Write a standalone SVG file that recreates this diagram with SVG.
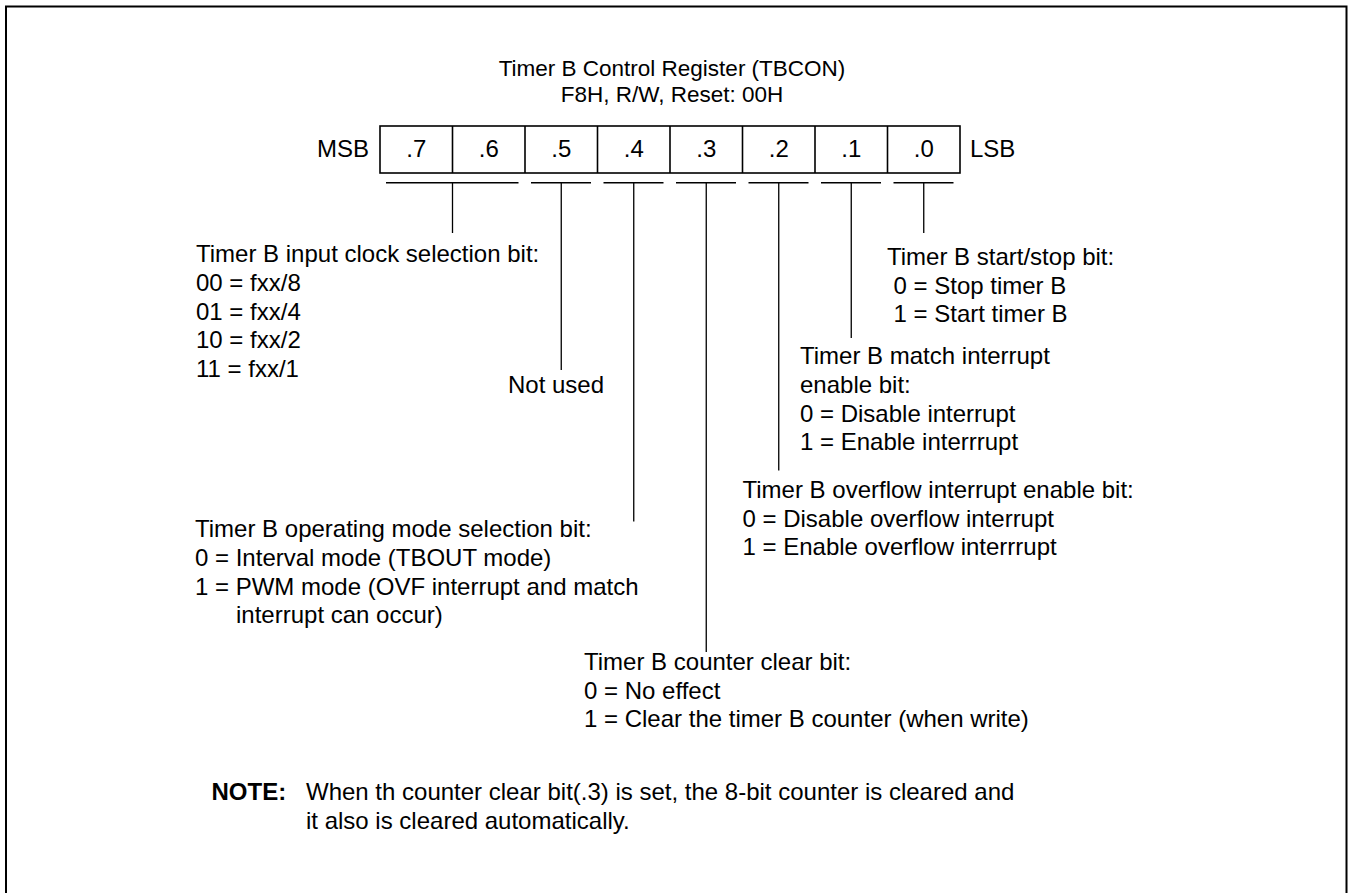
<svg xmlns="http://www.w3.org/2000/svg" width="1352" height="893" viewBox="0 0 1352 893">
<style>
text{font-family:"Liberation Sans",Arial,sans-serif;font-size:24px;fill:#000}
.c{text-anchor:middle}
.t{font-size:22.5px}
.b{font-weight:bold}
.reg{fill:none;stroke:#000;stroke-width:1.6}
.ul{stroke:#000;stroke-width:1.6}
.ld{stroke:#000;stroke-width:1.3;fill:none}
</style>
<rect x="6" y="6.5" width="1340.5" height="950" fill="#fff" stroke="#000" stroke-width="2"/>
<g id="title">
<text class="c t" x="672" y="76">Timer B Control Register (TBCON)</text>
<text class="c t" x="672" y="101.5">F8H, R/W, Reset: 00H</text>
</g>
<g id="register">
<rect class="reg" x="380" y="126" width="580" height="47"/>
<path class="reg" d="M452.5 126V173M525 126V173M597.5 126V173M670 126V173M742.5 126V173M815 126V173M887.5 126V173"/>
<text x="369" y="157" text-anchor="end">MSB</text>
<text class="c" x="416.25" y="157">.7</text>
<text class="c" x="488.75" y="157">.6</text>
<text class="c" x="561.25" y="157">.5</text>
<text class="c" x="633.75" y="157">.4</text>
<text class="c" x="706.25" y="157">.3</text>
<text class="c" x="778.75" y="157">.2</text>
<text class="c" x="851.25" y="157">.1</text>
<text class="c" x="923.75" y="157">.0</text>
<text x="970" y="157">LSB</text>
</g>
<g id="connectors">
<path class="ul" d="M386 182.7H518.5M531 182.7H591M603.5 182.7H663.5M676 182.7H736M748.5 182.7H808.5M821 182.7H881M893.5 182.7H953.5"/>
<path class="ld" d="M452.5 183V233M561.25 183V370M633.75 183V521.5M706.25 183V652M778.75 183V470.5M851.25 183V338M923.75 183V233"/>
</g>
<g id="clock-select">
<text x="196" y="262">Timer B input clock selection bit:</text>
<text x="196" y="291">00 = fxx/8</text>
<text x="196" y="319.5">01 = fxx/4</text>
<text x="196" y="348">10 = fxx/2</text>
<text x="196" y="376.5">11 = fxx/1</text>
</g>
<g id="not-used">
<text x="508" y="393">Not used</text>
</g>
<g id="start-stop">
<text x="887" y="265">Timer B start/stop bit:</text>
<text x="893.5" y="293.5">0 = Stop timer B</text>
<text x="893.5" y="322">1 = Start timer B</text>
</g>
<g id="match-int">
<text x="800" y="363.5">Timer B match interrupt</text>
<text x="800" y="392.5">enable bit:</text>
<text x="800" y="421.5">0 = Disable interrupt</text>
<text x="800" y="450">1 = Enable interrrupt</text>
</g>
<g id="overflow-int">
<text x="742.5" y="498">Timer B overflow interrupt enable bit:</text>
<text x="742.5" y="526.5">0 = Disable overflow interrupt</text>
<text x="742.5" y="555">1 = Enable overflow interrrupt</text>
</g>
<g id="mode-select">
<text x="195" y="537">Timer B operating mode selection bit:</text>
<text x="195" y="566">0 = Interval mode (TBOUT mode)</text>
<text x="195" y="594.5">1 = PWM mode (OVF interrupt and match</text>
<text x="236" y="623">interrupt can occur)</text>
</g>
<g id="counter-clear">
<text x="584" y="670">Timer B counter clear bit:</text>
<text x="584" y="698.5">0 = No effect</text>
<text x="584" y="727">1 = Clear the timer B counter (when write)</text>
</g>
<g id="note">
<text class="b" x="211.5" y="800">NOTE:</text>
<text x="306" y="800">When th counter clear bit(.3) is set, the 8-bit counter is cleared and</text>
<text x="306" y="828.5">it also is cleared automatically.</text>
</g>
</svg>
